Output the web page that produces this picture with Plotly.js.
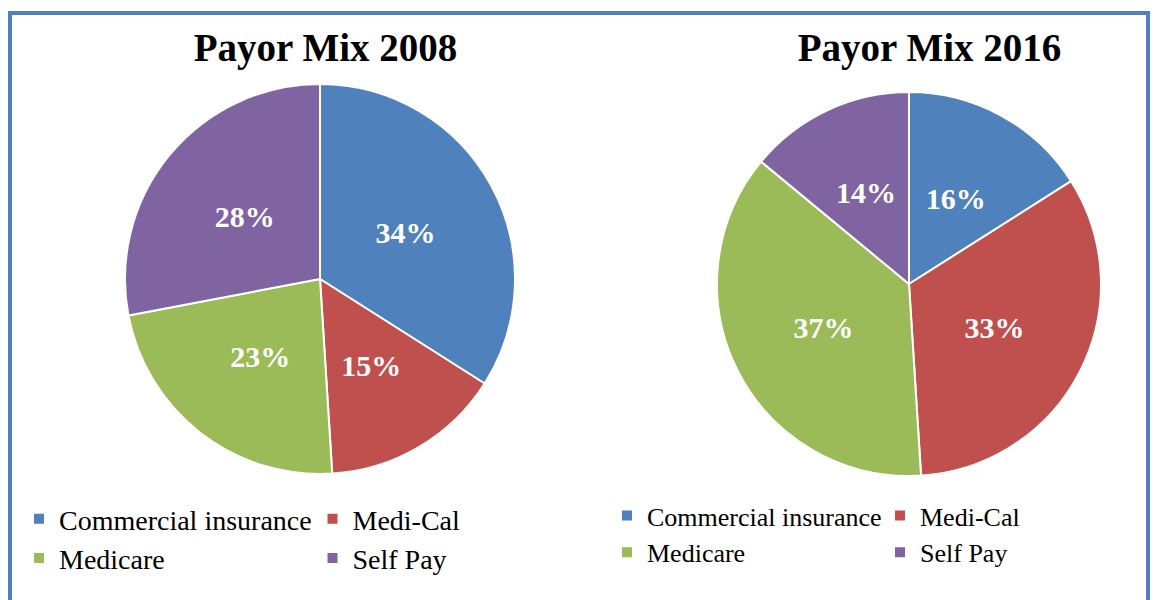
<!DOCTYPE html>
<html>
<head>
<meta charset="utf-8">
<script src="https://cdn.plot.ly/plotly-3.0.1.min.js"></script>
<style>
  html, body { margin: 0; padding: 0; background: #ffffff; width: 1155px; height: 600px; overflow: hidden; position: relative; }
  #left { position: absolute; left: 0px; top: 0px; width: 620px; height: 600px; }
  #right { position: absolute; left: 535px; top: 0px; width: 660px; height: 600px; }
  #frame { position: absolute; left: 8px; top: 11px; width: 1142px; height: 640px; box-sizing: border-box;
           border: 4px solid #4f81bd; pointer-events: none; z-index: 10; }
</style>
</head>
<body>
<div id="left"></div>
<div id="right"></div>
<div id="frame"></div>
<script>
// ---- data ----
const categories = ["Commercial insurance", "Medi-Cal", "Medicare", "Self Pay"];
const values2008 = [34, 15, 23, 28];
const values2016 = [16, 33, 37, 14];
const titles = ["Payor Mix 2008", "Payor Mix 2016"];
const sliceColors = ["#4f81bd", "#c0504d", "#9bbb59", "#8064a2"];

const serif = "Liberation Serif, Times New Roman, serif";
const H = 600;

function makePie(divId, values, title, o) {
  const W = o.w;
  const dom = (r) => ({
    x: [(o.cx - r) / W, (o.cx + r) / W],
    y: [1 - (o.cy + r) / H, 1 - (o.cy - r) / H]
  });
  // the pie itself
  const pie = {
    type: "pie",
    labels: categories,
    values: values,
    sort: false,
    direction: "clockwise",
    rotation: 0,
    marker: { colors: sliceColors, line: { color: "#ffffff", width: 2 } },
    textinfo: "none",
    hoverinfo: "label+percent",
    domain: dom(o.r)
  };
  // transparent ring carrying the percentage labels (positions them ~half radius out)
  const labelRing = {
    type: "pie",
    labels: categories,
    values: values,
    sort: false,
    direction: "clockwise",
    rotation: 0,
    hole: 1 / 3,
    showlegend: false,
    marker: { colors: categories.map(() => "rgba(0,0,0,0)"), line: { width: 0 } },
    textinfo: "percent",
    textposition: "inside",
    insidetextorientation: "horizontal",
    insidetextfont: { family: serif, size: 30, color: "#ffffff", weight: "bold" },
    hoverinfo: "skip",
    domain: dom(o.r * 0.75)
  };
  const layout = {
    width: W, height: H,
    margin: { l: 0, r: 0, t: 0, b: 0 },
    paper_bgcolor: "rgba(0,0,0,0)",
    plot_bgcolor: "rgba(0,0,0,0)",
    title: {
      text: title,
      x: o.tx / W, xref: "container", xanchor: "center",
      y: 1 - 47 / H, yref: "container", yanchor: "middle",
      font: { family: serif, size: 39, color: "#000000", weight: "bold" }
    },
    showlegend: true,
    legend: {
      orientation: "h",
      x: o.lx / W, xanchor: "left",
      y: 1 - o.ly / H, yanchor: "top",
      entrywidth: o.ew, entrywidthmode: "pixels",
      font: { family: serif, size: o.lf, color: "#000000" },
      traceorder: "normal",
      bgcolor: "rgba(0,0,0,0)"
    }
  };
  Plotly.newPlot(divId, [pie, labelRing], layout, { displayModeBar: false, staticPlot: true });
}

makePie("left", values2008, titles[0], { w: 620, cx: 320, cy: 279, r: 195, tx: 325.5, lx: 19, ly: 494, ew: 248.5, lf: 28 });
makePie("right", values2016, titles[1], { w: 660, cx: 374, cy: 284, r: 192, tx: 394.5, lx: 72, ly: 492, ew: 228, lf: 26 });
</script>
</body>
</html>
